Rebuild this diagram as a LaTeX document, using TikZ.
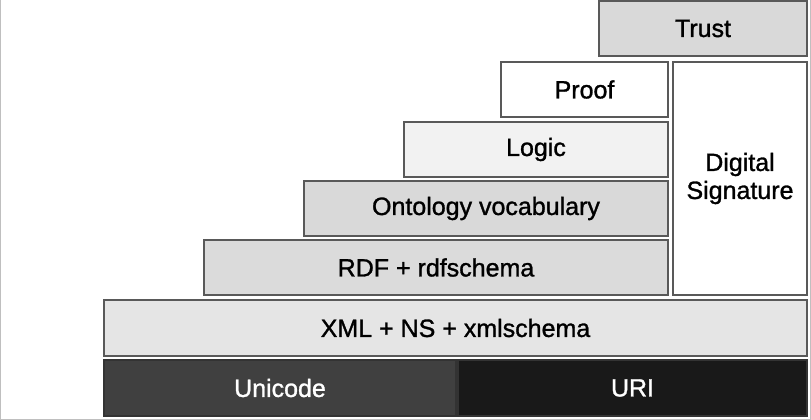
\documentclass[tikz,border=0pt]{standalone}
\usepackage{fontspec}
\setmainfont{Liberation Sans}[FakeBold=1.2]
\begin{document}
\begin{tikzpicture}[x=1pt,y=-1pt,
  layer/.style={draw=black!65, line width=1.6pt, anchor=north west,
    inner sep=0pt, outer sep=0pt, align=center,
    font=\fontsize{25}{28}\selectfont},
  darklayer/.style={layer, draw=black!80, text=white}]
  % canvas and faint frame on left, bottom and right
  \useasboundingbox (0,0) rectangle (811,420);
  \coordinate (tl) at (0.5,0);
  \coordinate (bl) at (0.5,419);
  \coordinate (br) at (810,419);
  \coordinate (tr) at (810,0);
  \draw[black!25, line width=1pt] (tl) -- (bl) -- (br) -- (tr);

  % the layer stack
  \node[layer, fill=black!15, minimum width=208pt, minimum height=55pt] (trust) at (599,1) {Trust};
  \node[layer, fill=white, minimum width=167pt, minimum height=55pt] (proof) at (501,62) {Proof};
  \node[layer, fill=black!5, minimum width=264pt, minimum height=55pt] (logic) at (404,122) {Logic};
  \node[layer, fill=black!15, minimum width=364pt, minimum height=55pt] (onto) at (304,181) {Ontology vocabulary};
  \node[layer, fill=black!14, minimum width=464pt, minimum height=55pt] (rdf) at (204,240) {RDF + rdfschema};
  \node[layer, fill=white, minimum width=134pt, minimum height=233pt] (sig) at (673,62) {Digital\\Signature};
  \node[layer, fill=black!10, minimum width=703pt, minimum height=56pt] (xml) at (104,300) {XML + NS + xmlschema};
  \node[darklayer, fill=black!75, minimum width=352pt, minimum height=56pt] (unicode) at (104,360) {Unicode};
  \node[darklayer, fill=black!90, minimum width=349pt, minimum height=56pt] (uri) at (458,360) {URI};
\end{tikzpicture}
\end{document}
